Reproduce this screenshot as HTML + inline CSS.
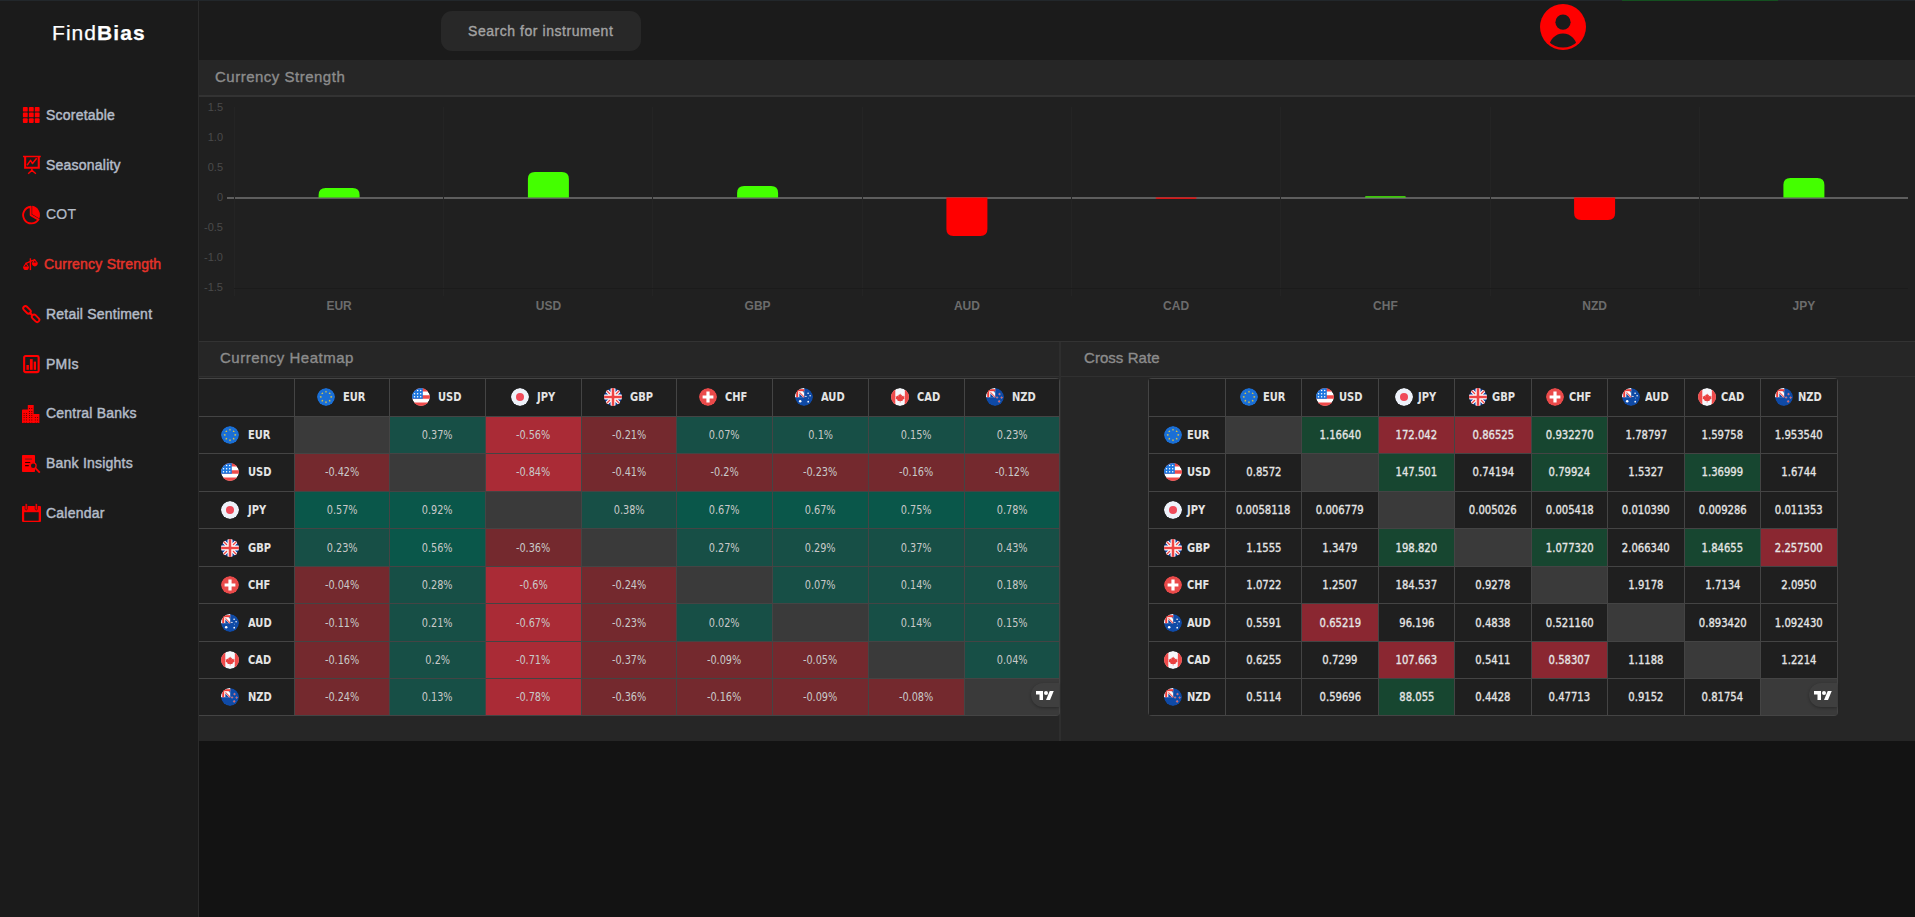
<!DOCTYPE html><html><head><meta charset="utf-8"><title>FindBias - Currency Strength</title><style>
*{box-sizing:border-box;margin:0;padding:0}
html,body{width:1915px;height:917px;overflow:hidden;background:#131313;font-family:"Liberation Sans",Arial,sans-serif}
.abs{position:absolute}
.topline{position:absolute;left:0;top:0;width:1915px;height:1px;background:#22272b;z-index:5}
.topgreen{position:absolute;left:1622px;top:0;width:156px;height:1px;background:#145020;z-index:6}
.side{position:absolute;left:0;top:0;width:199px;height:917px;background:#1b1b1b;border-right:1px solid #2b2b2b}
.logo{position:absolute;left:52px;top:20px;font-size:21px;color:#fff;letter-spacing:1.05px;line-height:26px}
.logo b{font-weight:700}
.logo{-webkit-text-stroke:0.25px #fff}
.ico{position:absolute;line-height:0}
.nav{position:absolute;font-size:14px;font-weight:400;color:#b4bcc8;line-height:18px;white-space:nowrap;letter-spacing:0.22px;-webkit-text-stroke:0.45px #b4bcc8}
.nav.act{color:#e5332a;-webkit-text-stroke-color:#e5332a}
.nav.reg{-webkit-text-stroke-width:0.2px}
.header{position:absolute;left:199px;top:0;width:1716px;height:60px;background:#1b1b1b}
.search{position:absolute;left:441px;top:11px;width:200px;height:40px;border-radius:11px;background:#282828;color:#a3a3a3;font-size:14px;font-weight:400;line-height:40px;padding-left:27px;white-space:nowrap;letter-spacing:0.55px;-webkit-text-stroke:0.35px #a3a3a3}
.user{position:absolute;left:1540px;top:4px;line-height:0}
.panel{position:absolute;background:#262626}
.ttl{position:absolute;font-size:15px;font-weight:400;color:#8c8c8c;white-space:nowrap;line-height:18px;letter-spacing:0.5px;-webkit-text-stroke:0.35px #8c8c8c}
.chart{position:absolute;left:199px;top:97px}
.chart .yl{font:11px "Liberation Sans",sans-serif;fill:#4a4a4a}
.chart .xl{font:bold 12px "Liberation Sans",sans-serif;fill:#6c6c6c}
.tbl{position:absolute;background:#444;border-radius:4px}
.cell{position:absolute;display:flex;align-items:center;justify-content:center;background:#1f1f1f;white-space:nowrap}
.cell.emp{background:#3a3a3a}
.cell.hv{color:#c9c9c9;font:12px "DejaVu Sans Condensed","DejaVu Sans",sans-serif}
.cell.hv span,.cell.cv span{display:inline-block;transform:scaleX(0.9)}
.cell.cv span{transform:scaleX(0.93)}
.cell.cv{color:#e6e6e6;font:12px "DejaVu Sans Condensed","DejaVu Sans",sans-serif;-webkit-text-stroke:0.3px #e6e6e6}
.lab{display:flex;align-items:center}
.lab b{font:bold 12px "DejaVu Sans Condensed","DejaVu Sans",sans-serif;color:#e4e4e4;display:inline-block;transform:scaleX(0.92);transform-origin:left center;margin-right:-2px}
.fl{display:block}
.tvp{position:absolute;right:0;top:4px;width:28px;height:24px;border-radius:12px 0 0 12px;background:#3f3f3f;box-shadow:0 1px 3px rgba(0,0,0,.3);display:flex;align-items:center;justify-content:center}
</style></head><body><svg width="0" height="0" style="position:absolute"><defs><clipPath id="cpEUR"><circle cx="9" cy="9" r="9"/></clipPath><symbol id="fEUR" viewBox="0 0 18 18"><g clip-path="url(#cpEUR)"><circle cx="9" cy="9" r="9" fill="#1a6fd6"/><polygon points="14.20,7.75 14.51,8.58 15.39,8.61 14.70,9.16 14.93,10.01 14.20,9.53 13.47,10.01 13.70,9.16 13.01,8.61 13.89,8.58" fill="#f5d130"/><polygon points="12.68,11.43 12.99,12.25 13.87,12.29 13.18,12.84 13.41,13.69 12.68,13.20 11.94,13.69 12.18,12.84 11.49,12.29 12.37,12.25" fill="#f5d130"/><polygon points="9.00,12.95 9.31,13.78 10.19,13.81 9.50,14.36 9.73,15.21 9.00,14.72 8.27,15.21 8.50,14.36 7.81,13.81 8.69,13.78" fill="#f5d130"/><polygon points="5.32,11.43 5.63,12.25 6.51,12.29 5.82,12.84 6.06,13.69 5.32,13.20 4.59,13.69 4.82,12.84 4.13,12.29 5.01,12.25" fill="#f5d130"/><polygon points="3.80,7.75 4.11,8.58 4.99,8.61 4.30,9.16 4.53,10.01 3.80,9.53 3.07,10.01 3.30,9.16 2.61,8.61 3.49,8.58" fill="#f5d130"/><polygon points="5.32,4.07 5.63,4.90 6.51,4.94 5.82,5.49 6.06,6.33 5.32,5.85 4.59,6.33 4.82,5.49 4.13,4.94 5.01,4.90" fill="#f5d130"/><polygon points="9.00,2.55 9.31,3.38 10.19,3.41 9.50,3.96 9.73,4.81 9.00,4.33 8.27,4.81 8.50,3.96 7.81,3.41 8.69,3.38" fill="#f5d130"/><polygon points="12.68,4.07 12.99,4.90 13.87,4.94 13.18,5.49 13.41,6.33 12.68,5.85 11.94,6.33 12.18,5.49 11.49,4.94 12.37,4.90" fill="#f5d130"/></g></symbol><clipPath id="cpUSD"><circle cx="9" cy="9" r="9"/></clipPath><symbol id="fUSD" viewBox="0 0 18 18"><g clip-path="url(#cpUSD)"><circle cx="9" cy="9" r="9" fill="#fff"/><path d="M0 0h18v3.6H0zM0 7.2h18v3.6H0zM0 14.4h18v3.6H0z" fill="#ef4b4b"/><rect x="0" y="0" width="10.8" height="10.8" fill="#1e78e0"/><g fill="#fff"><circle cx="5.6" cy="2.6" r=".75"/><circle cx="8.7" cy="2.6" r=".75"/><circle cx="2.5" cy="5.8" r=".75"/><circle cx="5.6" cy="5.8" r=".75"/><circle cx="8.7" cy="5.8" r=".75"/><circle cx="2.5" cy="8.8" r=".75"/><circle cx="5.6" cy="8.8" r=".75"/><circle cx="8.7" cy="8.8" r=".75"/></g></g></symbol><clipPath id="cpJPY"><circle cx="9" cy="9" r="9"/></clipPath><symbol id="fJPY" viewBox="0 0 18 18"><g clip-path="url(#cpJPY)"><circle cx="9" cy="9" r="9" fill="#eef2fa"/><circle cx="9" cy="9" r="4" fill="#f04a5a"/></g></symbol><clipPath id="cpGBP"><circle cx="9" cy="9" r="9"/></clipPath><symbol id="fGBP" viewBox="0 0 18 18"><g clip-path="url(#cpGBP)"><circle cx="9" cy="9" r="9" fill="#0a3a9a"/><path d="M0 0L18 18M18 0L0 18" stroke="#fff" stroke-width="3.6"/><path d="M1.5 1.5L6.5 6.5M16.5 1.5L11.5 6.5M1.5 16.5L6.5 11.5M16.5 16.5L11.5 11.5" stroke="#ee4444" stroke-width="1.3"/><path d="M9 0V18M0 9H18" stroke="#fff" stroke-width="5"/><path d="M9 0V18M0 9H18" stroke="#ee4444" stroke-width="2.6"/></g></symbol><clipPath id="cpCHF"><circle cx="9" cy="9" r="9"/></clipPath><symbol id="fCHF" viewBox="0 0 18 18"><g clip-path="url(#cpCHF)"><circle cx="9" cy="9" r="9" fill="#ea4a4a"/><path d="M7.4 3.6h3.2v3.8h3.8v3.2h-3.8v3.8H7.4v-3.8H3.6V7.4h3.8z" fill="#fff"/></g></symbol><clipPath id="cpAUD"><circle cx="9" cy="9" r="9"/></clipPath><symbol id="fAUD" viewBox="0 0 18 18"><g clip-path="url(#cpAUD)"><circle cx="9" cy="9" r="9" fill="#0f4aa6"/><rect x="0" y="0" width="9.2" height="9.2" fill="#fff"/><path d="M4.3 5.6L4.3 9.2H8Z" fill="#0f4aa6"/><path d="M7.5 3.2H9.2V5Z" fill="#0f4aa6"/><rect x="0" y="1.2" width="9.2" height="2" fill="#ee3b36"/><rect x="1.2" y="0" width="2" height="9.2" fill="#ee3b36"/><path d="M4.4 4.4L9.2 9.2" stroke="#f06a6a" stroke-width="1.3"/><g fill="#fff"><circle cx="5.2" cy="13.2" r="1.25"/><circle cx="13.1" cy="5.2" r=".8"/><circle cx="15.1" cy="7.7" r=".75"/><circle cx="10.9" cy="8.4" r=".7"/><circle cx="13.7" cy="10.1" r=".45"/><circle cx="13.2" cy="13.7" r=".85"/></g></g></symbol><clipPath id="cpCAD"><circle cx="9" cy="9" r="9"/></clipPath><symbol id="fCAD" viewBox="0 0 18 18"><g clip-path="url(#cpCAD)"><circle cx="9" cy="9" r="9" fill="#f6f7fb"/><path d="M0 0h4.3v18H0zM13.9 0H18v18h-4.3z" fill="#ef4b4b"/><path d="M9.1 5.6l.9 1.5 1-.4-.3 1.9 1.4-1 .5 1 1.1-.2-.6 1.6.6.4-2.2 1.7.2.9H9.4v1.4H8.8v-1.4H6.5l.2-.9-2.2-1.7.6-.4-.6-1.6 1.1.2.5-1 1.4 1-.3-1.9 1 .4z" fill="#ea4040"/></g></symbol><clipPath id="cpNZD"><circle cx="9" cy="9" r="9"/></clipPath><symbol id="fNZD" viewBox="0 0 18 18"><g clip-path="url(#cpNZD)"><circle cx="9" cy="9" r="9" fill="#0f4aa6"/><rect x="0" y="0" width="9.2" height="9.2" fill="#fff"/><path d="M4.3 5.6L4.3 9.2H8Z" fill="#0f4aa6"/><path d="M7.5 3.2H9.2V5Z" fill="#0f4aa6"/><rect x="0" y="1.2" width="9.2" height="2" fill="#ee3b36"/><rect x="1.2" y="0" width="2" height="9.2" fill="#ee3b36"/><path d="M4.4 4.4L9.2 9.2" stroke="#f06a6a" stroke-width="1.3"/><g fill="#ee4040" stroke="#fff" stroke-width=".25"><circle cx="13.5" cy="6.1" r=".85"/><circle cx="11.1" cy="9.5" r=".8"/><circle cx="15.6" cy="9.6" r=".8"/><circle cx="13.2" cy="13.4" r=".9"/></g></g></symbol><symbol id="tv" viewBox="0 0 36 18"><path d="M14 18H7V7H0V0h14v18zM28 18h-8l7.5-18h8L28 18z" fill="#fff"/><circle cx="20" cy="4" r="4" fill="#fff"/></symbol></defs></svg><div class="side"><div class="logo">Find<b>Bias</b></div><div class="ico" style="left:22px;top:105px"><svg width="20" height="20" viewBox="0 0 20 20"><rect x="0.9" y="1.9" width="4.8" height="4.7" rx=".9" fill="#ff0000"/><rect x="0.9" y="7.6" width="4.8" height="4.7" rx=".9" fill="#ff0000"/><rect x="0.9" y="13.3" width="4.8" height="4.7" rx=".9" fill="#ff0000"/><rect x="6.9" y="1.9" width="4.8" height="4.7" rx=".9" fill="#ff0000"/><rect x="6.9" y="7.6" width="4.8" height="4.7" rx=".9" fill="#ff0000"/><rect x="6.9" y="13.3" width="4.8" height="4.7" rx=".9" fill="#ff0000"/><rect x="12.8" y="1.9" width="4.8" height="4.7" rx=".9" fill="#ff0000"/><rect x="12.8" y="7.6" width="4.8" height="4.7" rx=".9" fill="#ff0000"/><rect x="12.8" y="13.3" width="4.8" height="4.7" rx=".9" fill="#ff0000"/></svg></div><div class="nav" style="left:46px;top:106px">Scoretable</div><div class="ico" style="left:22px;top:155px"><svg width="20" height="20" viewBox="0 0 20 20" fill="none" stroke="#ff0000"><path d="M1 1.5H18.8" stroke-width="1.5"/><path d="M3.15 2V12.7H16.75V2" stroke-width="2.1"/><path d="M5.1 10.3L8.5 5.4 10.5 8.5 14.7 3.3" stroke-width="1.5" stroke-linejoin="round"/><path d="M9.9 13.5V15.6M9.9 15.3L6.2 18.7M9.9 15.3L13.9 18.7" stroke-width="1.5"/></svg></div><div class="nav" style="left:46px;top:156px">Seasonality</div><div class="ico" style="left:21px;top:205px"><svg width="20" height="20" viewBox="0 0 20 20"><path d="M9.7 1.75A8.35 8.35 0 1 0 17.5 14.6L9.7 10.1Z" fill="none" stroke="#ff0000" stroke-width="1.9" stroke-linejoin="round"/><path d="M11.2 0.85A9.3 9.3 0 0 1 18.3 13.4L11.2 9.3Z" fill="#ff0000"/></svg></div><div class="nav reg" style="left:46px;top:205px">COT</div><div class="ico" style="left:22px;top:256px"><svg width="20" height="20" viewBox="0 0 20 20" fill="#ff0000"><rect x="7.7" y="2.3" width="1.4" height="11.8"/><path d="M3.5 7.6L8.4 5.3 12.8 3.6" stroke="#ff0000" stroke-width="1.3" fill="none"/><path d="M1 10.4Q1 14 4 14Q7 14 7 10.4Z"/><path d="M4 6.5L1.2 10.6H2.6L4 8.3 5.4 10.6H6.8Z"/><path d="M9.8 6.6Q9.8 10.4 12.8 10.4Q15.8 10.4 15.8 6.6Z"/><path d="M12.8 2.8L10 6.8H11.4L12.8 4.6 14.2 6.8H15.6Z"/></svg></div><div class="nav act" style="left:44px;top:255px">Currency Strength</div><div class="ico" style="left:21px;top:304px"><svg width="20" height="20" viewBox="0 0 20 20" fill="none" stroke="#ff0000" stroke-width="1.9"><rect x="-4.4" y="-2.2" width="8.8" height="4.4" rx="2.2" transform="translate(6 5.9) rotate(45)"/><rect x="-4.4" y="-2.2" width="8.8" height="4.4" rx="2.2" transform="translate(14.6 14.3) rotate(45)"/><path d="M8.6 8.6L12 12" stroke-width="2.2"/></svg></div><div class="nav" style="left:46px;top:305px">Retail Sentiment</div><div class="ico" style="left:22px;top:354px"><svg width="20" height="20" viewBox="0 0 20 20"><rect x="2.15" y="2.05" width="14.5" height="16.05" rx="1.4" fill="none" stroke="#ff0000" stroke-width="2.1"/><rect x="4.4" y="11" width="2.5" height="4.8" fill="#ff0000"/><rect x="7.9" y="5.1" width="2.8" height="10.7" fill="#ff0000"/><rect x="11.7" y="7.6" width="2.3" height="8.2" fill="#ff0000"/></svg></div><div class="nav" style="left:46px;top:355px">PMIs</div><div class="ico" style="left:22px;top:404px"><svg width="20" height="20" viewBox="0 0 20 20"><path d="M0 6.2Q0 5.4 .8 5.4H5.8V1H11.7V9.9H17.4V19H0Z" fill="#ff0000"/><g fill="#5a0000"><rect x="1.6500000000000001" y="9.0" width=".9" height="1"/><rect x="1.6500000000000001" y="11.0" width=".9" height="1"/><rect x="1.6500000000000001" y="13.0" width=".9" height="1"/><rect x="1.6500000000000001" y="15.5" width=".9" height="1"/><rect x="1.6500000000000001" y="18.5" width=".9" height="1"/><rect x="3.95" y="9.0" width=".9" height="1"/><rect x="3.95" y="11.0" width=".9" height="1"/><rect x="3.95" y="13.0" width=".9" height="1"/><rect x="3.95" y="15.5" width=".9" height="1"/><rect x="3.95" y="18.5" width=".9" height="1"/><rect x="7.05" y="4.0" width=".9" height="1"/><rect x="7.05" y="7.0" width=".9" height="1"/><rect x="7.05" y="9.0" width=".9" height="1"/><rect x="7.05" y="11.0" width=".9" height="1"/><rect x="7.05" y="13.0" width=".9" height="1"/><rect x="7.05" y="15.5" width=".9" height="1"/><rect x="7.05" y="18.5" width=".9" height="1"/><rect x="9.350000000000001" y="4.0" width=".9" height="1"/><rect x="9.350000000000001" y="7.0" width=".9" height="1"/><rect x="9.350000000000001" y="9.0" width=".9" height="1"/><rect x="9.350000000000001" y="11.0" width=".9" height="1"/><rect x="9.350000000000001" y="13.0" width=".9" height="1"/><rect x="9.350000000000001" y="15.5" width=".9" height="1"/><rect x="9.350000000000001" y="18.5" width=".9" height="1"/><rect x="12.850000000000001" y="13.0" width=".9" height="1"/><rect x="12.850000000000001" y="15.5" width=".9" height="1"/><rect x="12.850000000000001" y="18.5" width=".9" height="1"/><rect x="15.15" y="13.0" width=".9" height="1"/><rect x="15.15" y="15.5" width=".9" height="1"/><rect x="15.15" y="18.5" width=".9" height="1"/></g></svg></div><div class="nav" style="left:46px;top:404px">Central Banks</div><div class="ico" style="left:22px;top:454px"><svg width="20" height="20" viewBox="0 0 20 20"><rect x="0" y="1" width="13" height="17" rx=".8" fill="#ff0000"/><path d="M3.1 5.1H9.9" stroke="#a01010" stroke-width="1.5"/><path d="M3.1 8.5H8.2M3.1 11.6H6.8" stroke="#300" stroke-width="1.1"/><circle cx="11.2" cy="11.7" r="3.9" fill="#1b1b1b" opacity=".0"/><circle cx="11.2" cy="11.7" r="2.9" fill="#1b1b1b" stroke="#ff0000" stroke-width="1.3"/><path d="M13.4 14.1L17.8 18.7" stroke="#ff0000" stroke-width="1.8"/></svg></div><div class="nav" style="left:46px;top:454px">Bank Insights</div><div class="ico" style="left:22px;top:503px"><svg width="20" height="20" viewBox="0 0 20 20"><rect x="0" y="3.1" width="19" height="16" rx="1" fill="#ff0000"/><rect x="2.2" y="9.2" width="14.5" height="8.5" fill="#1b1b1b"/><rect x="3.1" y="0.4" width="2.2" height="6.6" rx="1.1" fill="#ff0000" stroke="#1b1b1b" stroke-width=".7"/><rect x="13.2" y="0.4" width="2.2" height="6.6" rx="1.1" fill="#ff0000" stroke="#1b1b1b" stroke-width=".7"/></svg></div><div class="nav" style="left:46px;top:504px">Calendar</div></div><div class="header"></div><div class="search">Search for instrument</div><div class="user"><svg width="46" height="46" viewBox="0 0 46 46"><circle cx="23" cy="23" r="23" fill="#ff0000"/><circle cx="23" cy="18.2" r="7.6" fill="#1b1b1b"/><clipPath id="uc"><circle cx="23" cy="23" r="20.6"/></clipPath><ellipse cx="23" cy="44" rx="14" ry="14.5" fill="#1b1b1b" clip-path="url(#uc)"/></svg></div><div class="topline"></div><div class="topgreen"></div><div class="panel" style="left:199px;top:60px;width:1716px;height:35px;background:#262626"></div><div class="abs" style="left:199px;top:95px;width:1716px;height:2px;background:#333"></div><div class="abs" style="left:199px;top:97px;width:1716px;height:244px;background:#202020"></div><div class="ttl" style="left:215px;top:68px">Currency Strength</div><svg class="chart" width="1716" height="244" viewBox="199 97 1716 244"><line x1="227" y1="198" x2="1908" y2="198" stroke="#5e5e5e" stroke-width="2"/><line x1="234.5" y1="107" x2="234.5" y2="296" stroke="#242424" stroke-width="1"/><line x1="443.5" y1="107" x2="443.5" y2="296" stroke="#242424" stroke-width="1"/><line x1="652.5" y1="107" x2="652.5" y2="296" stroke="#242424" stroke-width="1"/><line x1="862.5" y1="107" x2="862.5" y2="296" stroke="#242424" stroke-width="1"/><line x1="1071.5" y1="107" x2="1071.5" y2="296" stroke="#242424" stroke-width="1"/><line x1="1280.5" y1="107" x2="1280.5" y2="296" stroke="#242424" stroke-width="1"/><line x1="1490.5" y1="107" x2="1490.5" y2="296" stroke="#242424" stroke-width="1"/><line x1="1699.5" y1="107" x2="1699.5" y2="296" stroke="#242424" stroke-width="1"/><line x1="234" y1="288.5" x2="1908" y2="288.5" stroke="#1b1b1b" stroke-width="1"/><text x="223" y="111" text-anchor="end" class="yl">1.5</text><text x="223" y="141" text-anchor="end" class="yl">1.0</text><text x="223" y="171" text-anchor="end" class="yl">0.5</text><text x="223" y="201" text-anchor="end" class="yl">0</text><text x="223" y="231" text-anchor="end" class="yl">-0.5</text><text x="223" y="261" text-anchor="end" class="yl">-1.0</text><text x="223" y="291" text-anchor="end" class="yl">-1.5</text><path d="M318.6 197.5V195.0Q318.6 188.0 325.6 188.0H352.6Q359.6 188.0 359.6 195.0V197.5Z" fill="#44ff00"/><text x="339.1" y="310" text-anchor="middle" class="xl">EUR</text><path d="M527.9 197.5V179.0Q527.9 172.0 534.9 172.0H561.9Q568.9 172.0 568.9 179.0V197.5Z" fill="#44ff00"/><text x="548.4" y="310" text-anchor="middle" class="xl">USD</text><path d="M737.1 197.5V193.0Q737.1 186.0 744.1 186.0H771.1Q778.1 186.0 778.1 193.0V197.5Z" fill="#44ff00"/><text x="757.6" y="310" text-anchor="middle" class="xl">GBP</text><path d="M946.4 197.5V229.0Q946.4 236.0 953.4 236.0H980.4Q987.4 236.0 987.4 229.0V197.5Z" fill="#ff0000"/><text x="966.9" y="310" text-anchor="middle" class="xl">AUD</text><path d="M1155.6 197.5V197.5Q1155.6 198.7 1156.8 198.7H1195.4Q1196.6 198.7 1196.6 197.5V197.5Z" fill="#ff0000"/><text x="1176.1" y="310" text-anchor="middle" class="xl">CAD</text><path d="M1364.9 197.5V197.5Q1364.9 196.3 1366.1 196.3H1404.7Q1405.9 196.3 1405.9 197.5V197.5Z" fill="#44ff00"/><text x="1385.4" y="310" text-anchor="middle" class="xl">CHF</text><path d="M1574.1 197.5V213.0Q1574.1 220.0 1581.1 220.0H1608.1Q1615.1 220.0 1615.1 213.0V197.5Z" fill="#ff0000"/><text x="1594.6" y="310" text-anchor="middle" class="xl">NZD</text><path d="M1783.4 197.5V185.0Q1783.4 178.0 1790.4 178.0H1817.4Q1824.4 178.0 1824.4 185.0V197.5Z" fill="#44ff00"/><text x="1803.9" y="310" text-anchor="middle" class="xl">JPY</text></svg><div class="abs" style="left:199px;top:341px;width:1716px;height:1px;background:#333"></div><div class="panel" style="left:199px;top:342px;width:860px;height:399px"></div><div class="abs" style="left:199px;top:376px;width:860px;height:1px;background:#303030"></div><div class="ttl" style="left:220px;top:349px">Currency Heatmap</div><div class="abs" style="left:1059px;top:342px;width:2px;height:399px;background:#2e2e2e"></div><div class="panel" style="left:1061px;top:342px;width:854px;height:399px"></div><div class="abs" style="left:1061px;top:376px;width:854px;height:1px;background:#303030"></div><div class="ttl" style="left:1084px;top:349px;letter-spacing:0.05px">Cross Rate</div><div class="tbl" style="left:199px;top:378px;width:861px;height:338px;border-radius:0 4px 4px 0"></div><div class="cell hd" style="left:199px;top:379px;width:95px;height:37px"></div><div class="cell hd" style="left:295px;top:379px;width:94px;height:37px"><span class="lab" style="gap:8px;position:relative;left:-1px;top:-1px"><svg class="fl" width="18" height="18"><use href="#fEUR"/></svg><b>EUR</b></span></div><div class="cell hd" style="left:390px;top:379px;width:95px;height:37px"><span class="lab" style="gap:8px;position:relative;left:-1px;top:-1px"><svg class="fl" width="18" height="18"><use href="#fUSD"/></svg><b>USD</b></span></div><div class="cell hd" style="left:486px;top:379px;width:95px;height:37px"><span class="lab" style="gap:8px;position:relative;left:-1px;top:-1px"><svg class="fl" width="18" height="18"><use href="#fJPY"/></svg><b>JPY</b></span></div><div class="cell hd" style="left:582px;top:379px;width:94px;height:37px"><span class="lab" style="gap:8px;position:relative;left:-1px;top:-1px"><svg class="fl" width="18" height="18"><use href="#fGBP"/></svg><b>GBP</b></span></div><div class="cell hd" style="left:677px;top:379px;width:95px;height:37px"><span class="lab" style="gap:8px;position:relative;left:-1px;top:-1px"><svg class="fl" width="18" height="18"><use href="#fCHF"/></svg><b>CHF</b></span></div><div class="cell hd" style="left:773px;top:379px;width:95px;height:37px"><span class="lab" style="gap:8px;position:relative;left:-1px;top:-1px"><svg class="fl" width="18" height="18"><use href="#fAUD"/></svg><b>AUD</b></span></div><div class="cell hd" style="left:869px;top:379px;width:95px;height:37px"><span class="lab" style="gap:8px;position:relative;left:-1px;top:-1px"><svg class="fl" width="18" height="18"><use href="#fCAD"/></svg><b>CAD</b></span></div><div class="cell hd" style="left:965px;top:379px;width:94px;height:37px"><span class="lab" style="gap:8px;position:relative;left:-1px;top:-1px"><svg class="fl" width="18" height="18"><use href="#fNZD"/></svg><b>NZD</b></span></div><div class="cell hd" style="left:199px;top:417px;width:95px;height:36px;justify-content:flex-start;padding-left:22px"><span class="lab" style="gap:8.5px"><svg class="fl" width="18" height="18"><use href="#fEUR"/></svg><b>EUR</b></span></div><div class="cell emp" style="left:295px;top:417px;width:94px;height:36px"></div><div class="cell hv" style="left:390px;top:417px;width:95px;height:36px;background:#174f46"><span>0.37%</span></div><div class="cell hv" style="left:486px;top:417px;width:95px;height:36px;background:#aa2b36"><span>-0.56%</span></div><div class="cell hv" style="left:582px;top:417px;width:94px;height:36px;background:#74292e"><span>-0.21%</span></div><div class="cell hv" style="left:677px;top:417px;width:95px;height:36px;background:#174f46"><span>0.07%</span></div><div class="cell hv" style="left:773px;top:417px;width:95px;height:36px;background:#174f46"><span>0.1%</span></div><div class="cell hv" style="left:869px;top:417px;width:95px;height:36px;background:#174f46"><span>0.15%</span></div><div class="cell hv" style="left:965px;top:417px;width:94px;height:36px;background:#174f46"><span>0.23%</span></div><div class="cell hd" style="left:199px;top:454px;width:95px;height:37px;padding-bottom:2px;justify-content:flex-start;padding-left:22px"><span class="lab" style="gap:8.5px"><svg class="fl" width="18" height="18"><use href="#fUSD"/></svg><b>USD</b></span></div><div class="cell hv" style="left:295px;top:454px;width:94px;height:37px;padding-bottom:2px;background:#74292e"><span>-0.42%</span></div><div class="cell emp" style="left:390px;top:454px;width:95px;height:37px;padding-bottom:2px"></div><div class="cell hv" style="left:486px;top:454px;width:95px;height:37px;padding-bottom:2px;background:#aa2b36"><span>-0.84%</span></div><div class="cell hv" style="left:582px;top:454px;width:94px;height:37px;padding-bottom:2px;background:#74292e"><span>-0.41%</span></div><div class="cell hv" style="left:677px;top:454px;width:95px;height:37px;padding-bottom:2px;background:#74292e"><span>-0.2%</span></div><div class="cell hv" style="left:773px;top:454px;width:95px;height:37px;padding-bottom:2px;background:#74292e"><span>-0.23%</span></div><div class="cell hv" style="left:869px;top:454px;width:95px;height:37px;padding-bottom:2px;background:#74292e"><span>-0.16%</span></div><div class="cell hv" style="left:965px;top:454px;width:94px;height:37px;padding-bottom:2px;background:#74292e"><span>-0.12%</span></div><div class="cell hd" style="left:199px;top:492px;width:95px;height:36px;justify-content:flex-start;padding-left:22px"><span class="lab" style="gap:8.5px"><svg class="fl" width="18" height="18"><use href="#fJPY"/></svg><b>JPY</b></span></div><div class="cell hv" style="left:295px;top:492px;width:94px;height:36px;background:#0a574a"><span>0.57%</span></div><div class="cell hv" style="left:390px;top:492px;width:95px;height:36px;background:#0a574a"><span>0.92%</span></div><div class="cell emp" style="left:486px;top:492px;width:95px;height:36px"></div><div class="cell hv" style="left:582px;top:492px;width:94px;height:36px;background:#174f46"><span>0.38%</span></div><div class="cell hv" style="left:677px;top:492px;width:95px;height:36px;background:#0a574a"><span>0.67%</span></div><div class="cell hv" style="left:773px;top:492px;width:95px;height:36px;background:#0a574a"><span>0.67%</span></div><div class="cell hv" style="left:869px;top:492px;width:95px;height:36px;background:#0a574a"><span>0.75%</span></div><div class="cell hv" style="left:965px;top:492px;width:94px;height:36px;background:#0a574a"><span>0.78%</span></div><div class="cell hd" style="left:199px;top:529px;width:95px;height:37px;justify-content:flex-start;padding-left:22px"><span class="lab" style="gap:8.5px"><svg class="fl" width="18" height="18"><use href="#fGBP"/></svg><b>GBP</b></span></div><div class="cell hv" style="left:295px;top:529px;width:94px;height:37px;background:#174f46"><span>0.23%</span></div><div class="cell hv" style="left:390px;top:529px;width:95px;height:37px;background:#0a574a"><span>0.56%</span></div><div class="cell hv" style="left:486px;top:529px;width:95px;height:37px;background:#74292e"><span>-0.36%</span></div><div class="cell emp" style="left:582px;top:529px;width:94px;height:37px"></div><div class="cell hv" style="left:677px;top:529px;width:95px;height:37px;background:#174f46"><span>0.27%</span></div><div class="cell hv" style="left:773px;top:529px;width:95px;height:37px;background:#174f46"><span>0.29%</span></div><div class="cell hv" style="left:869px;top:529px;width:95px;height:37px;background:#174f46"><span>0.37%</span></div><div class="cell hv" style="left:965px;top:529px;width:94px;height:37px;background:#174f46"><span>0.43%</span></div><div class="cell hd" style="left:199px;top:567px;width:95px;height:36px;justify-content:flex-start;padding-left:22px"><span class="lab" style="gap:8.5px"><svg class="fl" width="18" height="18"><use href="#fCHF"/></svg><b>CHF</b></span></div><div class="cell hv" style="left:295px;top:567px;width:94px;height:36px;background:#74292e"><span>-0.04%</span></div><div class="cell hv" style="left:390px;top:567px;width:95px;height:36px;background:#174f46"><span>0.28%</span></div><div class="cell hv" style="left:486px;top:567px;width:95px;height:36px;background:#aa2b36"><span>-0.6%</span></div><div class="cell hv" style="left:582px;top:567px;width:94px;height:36px;background:#74292e"><span>-0.24%</span></div><div class="cell emp" style="left:677px;top:567px;width:95px;height:36px"></div><div class="cell hv" style="left:773px;top:567px;width:95px;height:36px;background:#174f46"><span>0.07%</span></div><div class="cell hv" style="left:869px;top:567px;width:95px;height:36px;background:#174f46"><span>0.14%</span></div><div class="cell hv" style="left:965px;top:567px;width:94px;height:36px;background:#174f46"><span>0.18%</span></div><div class="cell hd" style="left:199px;top:604px;width:95px;height:37px;justify-content:flex-start;padding-left:22px"><span class="lab" style="gap:8.5px"><svg class="fl" width="18" height="18"><use href="#fAUD"/></svg><b>AUD</b></span></div><div class="cell hv" style="left:295px;top:604px;width:94px;height:37px;background:#74292e"><span>-0.11%</span></div><div class="cell hv" style="left:390px;top:604px;width:95px;height:37px;background:#174f46"><span>0.21%</span></div><div class="cell hv" style="left:486px;top:604px;width:95px;height:37px;background:#aa2b36"><span>-0.67%</span></div><div class="cell hv" style="left:582px;top:604px;width:94px;height:37px;background:#74292e"><span>-0.23%</span></div><div class="cell hv" style="left:677px;top:604px;width:95px;height:37px;background:#174f46"><span>0.02%</span></div><div class="cell emp" style="left:773px;top:604px;width:95px;height:37px"></div><div class="cell hv" style="left:869px;top:604px;width:95px;height:37px;background:#174f46"><span>0.14%</span></div><div class="cell hv" style="left:965px;top:604px;width:94px;height:37px;background:#174f46"><span>0.15%</span></div><div class="cell hd" style="left:199px;top:642px;width:95px;height:36px;justify-content:flex-start;padding-left:22px"><span class="lab" style="gap:8.5px"><svg class="fl" width="18" height="18"><use href="#fCAD"/></svg><b>CAD</b></span></div><div class="cell hv" style="left:295px;top:642px;width:94px;height:36px;background:#74292e"><span>-0.16%</span></div><div class="cell hv" style="left:390px;top:642px;width:95px;height:36px;background:#174f46"><span>0.2%</span></div><div class="cell hv" style="left:486px;top:642px;width:95px;height:36px;background:#aa2b36"><span>-0.71%</span></div><div class="cell hv" style="left:582px;top:642px;width:94px;height:36px;background:#74292e"><span>-0.37%</span></div><div class="cell hv" style="left:677px;top:642px;width:95px;height:36px;background:#74292e"><span>-0.09%</span></div><div class="cell hv" style="left:773px;top:642px;width:95px;height:36px;background:#74292e"><span>-0.05%</span></div><div class="cell emp" style="left:869px;top:642px;width:95px;height:36px"></div><div class="cell hv" style="left:965px;top:642px;width:94px;height:36px;background:#174f46"><span>0.04%</span></div><div class="cell hd" style="left:199px;top:679px;width:95px;height:36px;justify-content:flex-start;padding-left:22px"><span class="lab" style="gap:8.5px"><svg class="fl" width="18" height="18"><use href="#fNZD"/></svg><b>NZD</b></span></div><div class="cell hv" style="left:295px;top:679px;width:94px;height:36px;background:#74292e"><span>-0.24%</span></div><div class="cell hv" style="left:390px;top:679px;width:95px;height:36px;background:#174f46"><span>0.13%</span></div><div class="cell hv" style="left:486px;top:679px;width:95px;height:36px;background:#aa2b36"><span>-0.78%</span></div><div class="cell hv" style="left:582px;top:679px;width:94px;height:36px;background:#74292e"><span>-0.36%</span></div><div class="cell hv" style="left:677px;top:679px;width:95px;height:36px;background:#74292e"><span>-0.16%</span></div><div class="cell hv" style="left:773px;top:679px;width:95px;height:36px;background:#74292e"><span>-0.09%</span></div><div class="cell hv" style="left:869px;top:679px;width:95px;height:36px;background:#74292e"><span>-0.08%</span></div><div class="cell emp" style="left:965px;top:679px;width:94px;height:36px"><div class="tvp"><svg width="18" height="9" viewBox="0 0 36 18"><use href="#tv"/></svg></div></div><div class="tbl" style="left:1148px;top:378px;width:690px;height:338px"></div><div class="cell hd" style="left:1149px;top:379px;width:76px;height:37px"></div><div class="cell hd" style="left:1226px;top:379px;width:75px;height:37px"><span class="lab" style="gap:5px;position:relative;left:-1px;top:-1px"><svg class="fl" width="18" height="18"><use href="#fEUR"/></svg><b>EUR</b></span></div><div class="cell hd" style="left:1302px;top:379px;width:76px;height:37px"><span class="lab" style="gap:5px;position:relative;left:-1px;top:-1px"><svg class="fl" width="18" height="18"><use href="#fUSD"/></svg><b>USD</b></span></div><div class="cell hd" style="left:1379px;top:379px;width:75px;height:37px"><span class="lab" style="gap:5px;position:relative;left:-1px;top:-1px"><svg class="fl" width="18" height="18"><use href="#fJPY"/></svg><b>JPY</b></span></div><div class="cell hd" style="left:1455px;top:379px;width:76px;height:37px"><span class="lab" style="gap:5px;position:relative;left:-1px;top:-1px"><svg class="fl" width="18" height="18"><use href="#fGBP"/></svg><b>GBP</b></span></div><div class="cell hd" style="left:1532px;top:379px;width:75px;height:37px"><span class="lab" style="gap:5px;position:relative;left:-1px;top:-1px"><svg class="fl" width="18" height="18"><use href="#fCHF"/></svg><b>CHF</b></span></div><div class="cell hd" style="left:1608px;top:379px;width:76px;height:37px"><span class="lab" style="gap:5px;position:relative;left:-1px;top:-1px"><svg class="fl" width="18" height="18"><use href="#fAUD"/></svg><b>AUD</b></span></div><div class="cell hd" style="left:1685px;top:379px;width:75px;height:37px"><span class="lab" style="gap:5px;position:relative;left:-1px;top:-1px"><svg class="fl" width="18" height="18"><use href="#fCAD"/></svg><b>CAD</b></span></div><div class="cell hd" style="left:1761px;top:379px;width:76px;height:37px"><span class="lab" style="gap:5px;position:relative;left:-1px;top:-1px"><svg class="fl" width="18" height="18"><use href="#fNZD"/></svg><b>NZD</b></span></div><div class="cell hd" style="left:1149px;top:417px;width:76px;height:36px;justify-content:flex-start;padding-left:14.5px"><span class="lab" style="gap:5px"><svg class="fl" width="18" height="18"><use href="#fEUR"/></svg><b>EUR</b></span></div><div class="cell emp" style="left:1226px;top:417px;width:75px;height:36px"></div><div class="cell cv" style="left:1302px;top:417px;width:76px;height:36px;background:#174630"><span>1.16640</span></div><div class="cell cv" style="left:1379px;top:417px;width:75px;height:36px;background:#8a2731"><span>172.042</span></div><div class="cell cv" style="left:1455px;top:417px;width:76px;height:36px;background:#8a2731"><span>0.86525</span></div><div class="cell cv" style="left:1532px;top:417px;width:75px;height:36px;background:#174630"><span>0.932270</span></div><div class="cell cv" style="left:1608px;top:417px;width:76px;height:36px"><span>1.78797</span></div><div class="cell cv" style="left:1685px;top:417px;width:75px;height:36px"><span>1.59758</span></div><div class="cell cv" style="left:1761px;top:417px;width:76px;height:36px"><span>1.953540</span></div><div class="cell hd" style="left:1149px;top:454px;width:76px;height:37px;padding-bottom:2px;justify-content:flex-start;padding-left:14.5px"><span class="lab" style="gap:5px"><svg class="fl" width="18" height="18"><use href="#fUSD"/></svg><b>USD</b></span></div><div class="cell cv" style="left:1226px;top:454px;width:75px;height:37px;padding-bottom:2px"><span>0.8572</span></div><div class="cell emp" style="left:1302px;top:454px;width:76px;height:37px;padding-bottom:2px"></div><div class="cell cv" style="left:1379px;top:454px;width:75px;height:37px;padding-bottom:2px;background:#174630"><span>147.501</span></div><div class="cell cv" style="left:1455px;top:454px;width:76px;height:37px;padding-bottom:2px"><span>0.74194</span></div><div class="cell cv" style="left:1532px;top:454px;width:75px;height:37px;padding-bottom:2px;background:#174630"><span>0.79924</span></div><div class="cell cv" style="left:1608px;top:454px;width:76px;height:37px;padding-bottom:2px"><span>1.5327</span></div><div class="cell cv" style="left:1685px;top:454px;width:75px;height:37px;padding-bottom:2px;background:#174630"><span>1.36999</span></div><div class="cell cv" style="left:1761px;top:454px;width:76px;height:37px;padding-bottom:2px"><span>1.6744</span></div><div class="cell hd" style="left:1149px;top:492px;width:76px;height:36px;justify-content:flex-start;padding-left:14.5px"><span class="lab" style="gap:5px"><svg class="fl" width="18" height="18"><use href="#fJPY"/></svg><b>JPY</b></span></div><div class="cell cv" style="left:1226px;top:492px;width:75px;height:36px"><span>0.0058118</span></div><div class="cell cv" style="left:1302px;top:492px;width:76px;height:36px"><span>0.006779</span></div><div class="cell emp" style="left:1379px;top:492px;width:75px;height:36px"></div><div class="cell cv" style="left:1455px;top:492px;width:76px;height:36px"><span>0.005026</span></div><div class="cell cv" style="left:1532px;top:492px;width:75px;height:36px"><span>0.005418</span></div><div class="cell cv" style="left:1608px;top:492px;width:76px;height:36px"><span>0.010390</span></div><div class="cell cv" style="left:1685px;top:492px;width:75px;height:36px"><span>0.009286</span></div><div class="cell cv" style="left:1761px;top:492px;width:76px;height:36px"><span>0.011353</span></div><div class="cell hd" style="left:1149px;top:529px;width:76px;height:37px;justify-content:flex-start;padding-left:14.5px"><span class="lab" style="gap:5px"><svg class="fl" width="18" height="18"><use href="#fGBP"/></svg><b>GBP</b></span></div><div class="cell cv" style="left:1226px;top:529px;width:75px;height:37px"><span>1.1555</span></div><div class="cell cv" style="left:1302px;top:529px;width:76px;height:37px"><span>1.3479</span></div><div class="cell cv" style="left:1379px;top:529px;width:75px;height:37px;background:#174630"><span>198.820</span></div><div class="cell emp" style="left:1455px;top:529px;width:76px;height:37px"></div><div class="cell cv" style="left:1532px;top:529px;width:75px;height:37px;background:#174630"><span>1.077320</span></div><div class="cell cv" style="left:1608px;top:529px;width:76px;height:37px"><span>2.066340</span></div><div class="cell cv" style="left:1685px;top:529px;width:75px;height:37px;background:#174630"><span>1.84655</span></div><div class="cell cv" style="left:1761px;top:529px;width:76px;height:37px;background:#8a2731"><span>2.257500</span></div><div class="cell hd" style="left:1149px;top:567px;width:76px;height:36px;justify-content:flex-start;padding-left:14.5px"><span class="lab" style="gap:5px"><svg class="fl" width="18" height="18"><use href="#fCHF"/></svg><b>CHF</b></span></div><div class="cell cv" style="left:1226px;top:567px;width:75px;height:36px"><span>1.0722</span></div><div class="cell cv" style="left:1302px;top:567px;width:76px;height:36px"><span>1.2507</span></div><div class="cell cv" style="left:1379px;top:567px;width:75px;height:36px"><span>184.537</span></div><div class="cell cv" style="left:1455px;top:567px;width:76px;height:36px"><span>0.9278</span></div><div class="cell emp" style="left:1532px;top:567px;width:75px;height:36px"></div><div class="cell cv" style="left:1608px;top:567px;width:76px;height:36px"><span>1.9178</span></div><div class="cell cv" style="left:1685px;top:567px;width:75px;height:36px"><span>1.7134</span></div><div class="cell cv" style="left:1761px;top:567px;width:76px;height:36px"><span>2.0950</span></div><div class="cell hd" style="left:1149px;top:604px;width:76px;height:37px;justify-content:flex-start;padding-left:14.5px"><span class="lab" style="gap:5px"><svg class="fl" width="18" height="18"><use href="#fAUD"/></svg><b>AUD</b></span></div><div class="cell cv" style="left:1226px;top:604px;width:75px;height:37px"><span>0.5591</span></div><div class="cell cv" style="left:1302px;top:604px;width:76px;height:37px;background:#8a2731"><span>0.65219</span></div><div class="cell cv" style="left:1379px;top:604px;width:75px;height:37px"><span>96.196</span></div><div class="cell cv" style="left:1455px;top:604px;width:76px;height:37px"><span>0.4838</span></div><div class="cell cv" style="left:1532px;top:604px;width:75px;height:37px"><span>0.521160</span></div><div class="cell emp" style="left:1608px;top:604px;width:76px;height:37px"></div><div class="cell cv" style="left:1685px;top:604px;width:75px;height:37px"><span>0.893420</span></div><div class="cell cv" style="left:1761px;top:604px;width:76px;height:37px"><span>1.092430</span></div><div class="cell hd" style="left:1149px;top:642px;width:76px;height:36px;justify-content:flex-start;padding-left:14.5px"><span class="lab" style="gap:5px"><svg class="fl" width="18" height="18"><use href="#fCAD"/></svg><b>CAD</b></span></div><div class="cell cv" style="left:1226px;top:642px;width:75px;height:36px"><span>0.6255</span></div><div class="cell cv" style="left:1302px;top:642px;width:76px;height:36px"><span>0.7299</span></div><div class="cell cv" style="left:1379px;top:642px;width:75px;height:36px;background:#8a2731"><span>107.663</span></div><div class="cell cv" style="left:1455px;top:642px;width:76px;height:36px"><span>0.5411</span></div><div class="cell cv" style="left:1532px;top:642px;width:75px;height:36px;background:#8a2731"><span>0.58307</span></div><div class="cell cv" style="left:1608px;top:642px;width:76px;height:36px"><span>1.1188</span></div><div class="cell emp" style="left:1685px;top:642px;width:75px;height:36px"></div><div class="cell cv" style="left:1761px;top:642px;width:76px;height:36px"><span>1.2214</span></div><div class="cell hd" style="left:1149px;top:679px;width:76px;height:36px;justify-content:flex-start;padding-left:14.5px"><span class="lab" style="gap:5px"><svg class="fl" width="18" height="18"><use href="#fNZD"/></svg><b>NZD</b></span></div><div class="cell cv" style="left:1226px;top:679px;width:75px;height:36px"><span>0.5114</span></div><div class="cell cv" style="left:1302px;top:679px;width:76px;height:36px"><span>0.59696</span></div><div class="cell cv" style="left:1379px;top:679px;width:75px;height:36px;background:#174630"><span>88.055</span></div><div class="cell cv" style="left:1455px;top:679px;width:76px;height:36px"><span>0.4428</span></div><div class="cell cv" style="left:1532px;top:679px;width:75px;height:36px"><span>0.47713</span></div><div class="cell cv" style="left:1608px;top:679px;width:76px;height:36px"><span>0.9152</span></div><div class="cell cv" style="left:1685px;top:679px;width:75px;height:36px"><span>0.81754</span></div><div class="cell emp" style="left:1761px;top:679px;width:76px;height:36px"><div class="tvp"><svg width="18" height="9" viewBox="0 0 36 18"><use href="#tv"/></svg></div></div></body></html>
